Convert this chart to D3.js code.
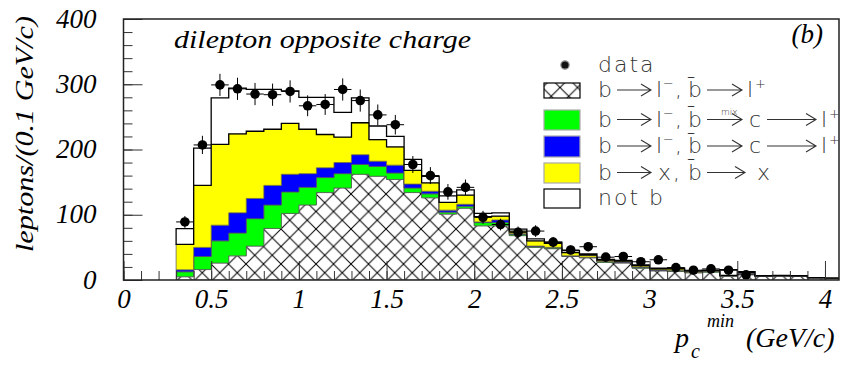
<!DOCTYPE html>
<html>
<head>
<meta charset="utf-8">
<script src="https://cdn.jsdelivr.net/npm/d3@7"></script>
<style>
  body { margin: 0; background: #fff; }
  .serif { font-family: "Liberation Serif", "DejaVu Serif", serif; font-style: italic; }
  .leg { font-family: "DejaVu Sans", sans-serif; font-weight: 200; fill: #333; }
</style>
</head>
<body>
<div id="chart"></div>
<script>
// lower edge of each 0.1 GeV/c bin
const binStart = [0.3, 0.4, 0.5, 0.6, 0.7, 0.8, 0.9, 1.0, 1.1, 1.2, 1.3, 1.4, 1.5, 1.6, 1.7, 1.8, 1.9,
    2.0, 2.1, 2.2, 2.3, 2.4, 2.5, 2.6, 2.7, 2.8, 2.9, 3.0, 3.1, 3.2, 3.3, 3.4, 3.5, 3.6, 3.7, 3.8, 3.9, 4.0];

// monte carlo components, stacked bottom to top
const bToL = [5, 16, 26, 37, 52, 79, 102, 115, 134, 141, 162, 159, 154, 134, 126, 101, 110,
    83, 83, 68, 50, 48, 36, 34, 27, 26, 18, 14, 13, 11, 12, 5.5, 10, 5.5, 6, 5.5, 3, 2.5];
const bMixC = [7.6, 20, 34, 35, 42, 36, 33, 27, 23, 22, 15, 15, 10, 7, 6, 3, 3,
    5, 5, 2, 1, 1, 0.5, 0.5, 1, 1, 1.5, 0.5, 1, 0.5, 1, 0.5, 0.5, 0.3, 0.3, 0.3, 0.3, 0.2];
const bToC = [3, 14, 24, 31, 31, 30, 27, 21, 15, 17, 15, 8, 12, 6, 4, 3, 3,
    1, 4, 1, 1, 1, 0.5, 0.5, 0.5, 0.5, 0.5, 1, 0.5, 0.5, 0.5, 0.6, 0.3, 0.3, 0.2, 0.2, 0.1, 0.1];
const bToX = [39, 95, 124, 121, 103, 86, 78, 68, 51, 39, 49, 33, 28, 21, 13, 12, 14,
    8, 6, 4, 8, 6, 5, 3, 2, 1.5, 2, 1.5, 2.5, 1.5, 1, 0.4, 1, 0.3, 0.3, 0.3, 0.1, 0.1];
const notB = [24, 57, 71, 70, 64, 61, 50, 49, 57, 38, 38, 21, 16, 17, 10, 10, 8,
    5, 5, 3, 3, 2, 3, 2, 1, 1, 1, 1, 1, 0.5, 0.5, 9, 1, 0.3, 0.2, 0.3, 0.1, 0.1];

// data points (bin centres)
const dataX = [0.35, 0.45, 0.55, 0.65, 0.75, 0.85, 0.95, 1.05, 1.15, 1.25, 1.35, 1.45, 1.55, 1.65, 1.75, 1.85, 1.95,
    2.05, 2.15, 2.25, 2.35, 2.45, 2.55, 2.65, 2.75, 2.85, 2.95, 3.05, 3.15, 3.25, 3.35, 3.45, 3.55];
const dataY = [89, 207, 299, 293, 285, 284, 289, 267, 269, 292, 275, 253, 238, 177, 160, 135, 142,
    96, 85, 73, 75, 58, 46, 51, 35, 36, 28, 31, 19, 15, 17, 15, 8];
const dataErr = [9, 14, 17, 17, 17, 17, 17, 16, 16, 17, 17, 16, 15, 13, 13, 12, 12,
    10, 9, 9, 9, 8, 7, 7, 6, 6, 5, 6, 4, 4, 4, 4, 3];

const xTicks = [0, 0.5, 1, 1.5, 2, 2.5, 3, 3.5, 4];
const yTicks = [0, 100, 200, 300, 400];

// svg set up
let svgWidth = 844;
let svgHeight = 367;
let margin = { top: 19, left: 123.5, right: 5, bottom: 87 };
let width = svgWidth - margin.left - margin.right;
let height = svgHeight - margin.top - margin.bottom;

let svg = d3.select("#chart")
    .append("svg")
    .attr("width", svgWidth)
    .attr("height", svgHeight);

let defs = svg.append("defs");
let pat = defs.append("pattern")
    .attr("id", "xhatch")
    .attr("patternUnits", "userSpaceOnUse")
    .attr("width", 17.5)
    .attr("height", 17.5);
pat.append("rect").attr("width", 17.5).attr("height", 17.5).attr("fill", "#fff");
pat.append("path")
    .attr("d", "M-2,-2L19.5,19.5M19.5,-2L-2,19.5")
    .attr("stroke", "#000")
    .attr("stroke-width", 1);

defs.append("clipPath").attr("id", "plotclip")
    .append("rect").attr("width", width).attr("height", height);

let chartGroup = svg.append("g")
    .attr("transform", `translate(${margin.left},${margin.top})`);

let x = d3.scaleLinear().domain([0, 4.08]).range([0, width]);
let y = d3.scaleLinear().domain([0, 400]).range([height, 0]);

// stacked histogram
const keys = ["bl", "mix", "bc", "bx", "nb"];
const fills = { bl: "url(#xhatch)", mix: "#00ff00", bc: "#0000ff", bx: "#ffff00", nb: "#ffffff" };
let rows = binStart.map((b, i) => ({ x: b, bl: bToL[i], mix: bMixC[i], bc: bToC[i], bx: bToX[i], nb: notB[i] }));
let last = rows[rows.length - 1];
rows.push(Object.assign({}, last, { x: last.x + 0.1 }));

let stacked = d3.stack().keys(keys)(rows);

let area = d3.area()
    .x(d => x(d.data.x))
    .y0(d => y(d[0]))
    .y1(d => y(d[1]))
    .curve(d3.curveStepAfter);

let histGroup = chartGroup.append("g").attr("clip-path", "url(#plotclip)");

histGroup.selectAll("path.layer")
    .data(stacked)
    .enter()
    .append("path")
    .attr("class", "layer")
    .attr("d", area)
    .attr("fill", d => fills[d.key])
    .attr("stroke", d => d.key === "nb" ? "#000" : "#555")
    .attr("stroke-width", d => d.key === "nb" ? 1.3 : 0.7);

// axes (ticks point inwards)
let yMajor = chartGroup.append("g")
    .call(d3.axisLeft(y).tickValues(yTicks).tickSize(-19).tickSizeOuter(0).tickPadding(27).tickFormat(d => d));
let yMinor = chartGroup.append("g")
    .call(d3.axisLeft(y).tickValues(d3.range(0, 401, 20)).tickSize(-9).tickSizeOuter(0).tickFormat(""));
let xMajor = chartGroup.append("g")
    .attr("transform", `translate(0,${height})`)
    .call(d3.axisBottom(x).tickValues(xTicks).tickSize(-19).tickSizeOuter(0).tickPadding(9).tickFormat(d => d));
let xMinor = chartGroup.append("g")
    .attr("transform", `translate(0,${height})`)
    .call(d3.axisBottom(x).tickValues(d3.range(0, 41).map(d => d / 10)).tickSize(-9).tickSizeOuter(0).tickFormat(""));

[yMajor, yMinor, xMajor, xMinor].forEach(g => {
    g.select(".domain").remove();
    g.selectAll(".tick line").attr("stroke", "#333").attr("stroke-width", 1);
});
[yMajor, xMajor].forEach(g => {
    g.selectAll(".tick text")
        .attr("class", "serif")
        .attr("font-size", 27)
        .attr("fill", "#000");
});
yMajor.selectAll(".tick text").attr("dy", "0.3em");

// data points
let pts = chartGroup.append("g");
dataX.forEach((xv, i) => {
    pts.append("line")
        .attr("x1", x(xv)).attr("x2", x(xv))
        .attr("y1", y(dataY[i] - dataErr[i])).attr("y2", y(dataY[i] + dataErr[i]))
        .attr("stroke", "#000").attr("stroke-width", 1);
    pts.append("line")
        .attr("x1", x(xv - 0.05)).attr("x2", x(xv + 0.05))
        .attr("y1", y(dataY[i])).attr("y2", y(dataY[i]))
        .attr("stroke", "#000").attr("stroke-width", 1);
});
pts.selectAll("circle")
    .data(dataX)
    .enter()
    .append("circle")
    .attr("cx", d => x(d))
    .attr("cy", (d, i) => y(dataY[i]))
    .attr("r", 4.8)
    .attr("fill", "#000");

// frame
chartGroup.append("rect")
    .attr("width", width).attr("height", height)
    .attr("fill", "none")
    .attr("stroke", "#222")
    .attr("stroke-width", 1.5);

// titles
svg.append("text").attr("class", "serif")
    .attr("x", 174).attr("y", 48)
    .attr("font-size", 26)
    .attr("textLength", 297).attr("lengthAdjust", "spacingAndGlyphs")
    .text("dilepton opposite charge");
svg.append("text").attr("class", "serif")
    .attr("x", 823).attr("y", 43)
    .attr("text-anchor", "end")
    .attr("font-size", 27)
    .text("(b)");

svg.append("text").attr("class", "serif")
    .attr("transform", "translate(33,252) rotate(-90)")
    .attr("font-size", 26)
    .attr("textLength", 236).attr("lengthAdjust", "spacingAndGlyphs")
    .text("leptons/(0.1 GeV/c)");

let xt = svg.append("text").attr("class", "serif").attr("font-size", 28);
xt.append("tspan").attr("x", 675).attr("y", 347).text("p");
xt.append("tspan").attr("x", 691).attr("y", 358).attr("font-size", 20).text("c");
xt.append("tspan").attr("x", 707).attr("y", 327).attr("font-size", 18).text("min");
xt.append("tspan").attr("x", 746).attr("y", 347).text("(GeV/c)");

// legend
let leg = svg.append("g");
leg.append("circle").attr("cx", 565).attr("cy", 65).attr("r", 4.2)
    .attr("fill", "#111").attr("stroke", "#999").attr("stroke-width", 1.2);
leg.append("text").attr("class", "leg").attr("x", 598).attr("y", 72)
    .style("font-size", "22px").attr("letter-spacing", 2).text("data");

// pieces: t = text, s = superscript, a = arrow (x1, x2), m = small label over arrow
const legRows = [
    { key: "bl", y: 83, h: 15, base: 97, parts: [
        ["t", "b", 598], ["a", 617, 651], ["t", "l", 656], ["s", "−", 663], ["t", ",", 675],
        ["t", "b\u0304", 688], ["a", 707, 742], ["t", "l", 747], ["s", "+", 755]] },
    { key: "mix", y: 110, h: 20, base: 126.5, parts: [
        ["t", "b", 598], ["a", 617, 651], ["t", "l", 656], ["s", "−", 663], ["t", ",", 675],
        ["t", "b\u0304", 688], ["a", 707, 742], ["m", "mix", 721], ["t", "c", 749],
        ["a", 767, 816], ["t", "l", 821], ["s", "+", 829]] },
    { key: "bc", y: 136, h: 21, base: 153, parts: [
        ["t", "b", 598], ["a", 617, 651], ["t", "l", 656], ["s", "−", 663], ["t", ",", 675],
        ["t", "b\u0304", 688], ["a", 707, 742], ["t", "c", 749],
        ["a", 767, 816], ["t", "l", 821], ["s", "+", 829]] },
    { key: "bx", y: 163, h: 20, base: 179.5, parts: [
        ["t", "b", 598], ["a", 617, 651], ["t", "x", 658], ["t", ",", 673],
        ["t", "b\u0304", 688], ["a", 707, 745], ["t", "x", 757]] },
    { key: "nb", y: 189, h: 19, base: 205, parts: [["t", "not b", 598]] }
];

legRows.forEach(r => {
    leg.append("rect")
        .attr("x", 544).attr("y", r.y).attr("width", 36).attr("height", r.h)
        .attr("fill", fills[r.key])
        .attr("stroke", (r.key === "bl" || r.key === "nb") ? "#000" : "#aaa")
        .attr("stroke-width", 1.2);
    r.parts.forEach(p => {
        if (p[0] === "a") {
            let ay = r.base - 7;
            leg.append("path")
                .attr("d", `M${p[1]},${ay}H${p[2]}M${p[2] - 10},${ay - 6}L${p[2]},${ay}L${p[2] - 10},${ay + 6}`)
                .attr("fill", "none").attr("stroke", "#333").attr("stroke-width", 1.1);
        } else if (p[0] === "s") {
            leg.append("text").attr("class", "leg")
                .attr("x", p[2]).attr("y", r.base - 9)
                .style("font-size", "13px").text(p[1]);
        } else if (p[0] === "m") {
            leg.append("text").attr("class", "leg")
                .attr("x", p[2]).attr("y", r.base - 12)
                .style("font-size", "9px").text(p[1]);
        } else {
            leg.append("text").attr("class", "leg")
                .attr("x", p[2]).attr("y", r.base)
                .style("font-size", "22px")
                .attr("letter-spacing", p[1].length > 2 ? 2 : 0)
                .text(p[1]);
        }
    });
});
</script>
</body>
</html>
